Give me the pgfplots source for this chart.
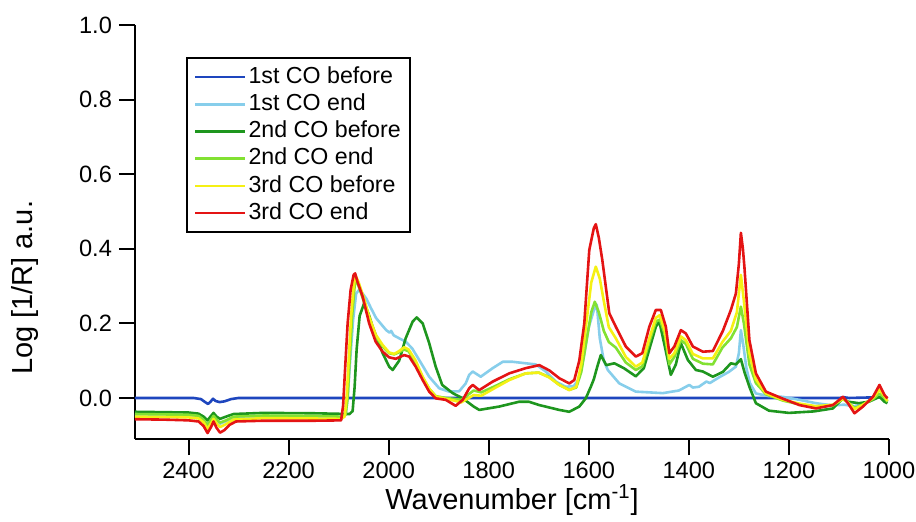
\documentclass[border=0pt]{standalone}
\usepackage{fontspec}
\setmainfont{Liberation Sans}
\usepackage{pgfplots}
\pgfplotsset{compat=1.18}
\definecolor{cBlue}{RGB}{30,70,190}
\definecolor{cLBlue}{RGB}{135,206,235}
\definecolor{cGreen}{RGB}{30,150,30}
\definecolor{cLGreen}{RGB}{130,225,50}
\definecolor{cYellow}{RGB}{245,240,20}
\definecolor{cRed}{RGB}{228,20,20}
\begin{document}
\begin{tikzpicture}
\begin{axis}[
  name=ax,
  scale only axis, width=377pt, height=207pt,
  x dir=reverse, xmin=1000, xmax=2507, ymin=-0.11, ymax=1.0,
  axis x line=bottom, axis y line=left,
  axis line style={-, line width=1pt},
  every outer x axis line/.append style={-},
  every outer y axis line/.append style={-},
  tick align=outside, major tick length=8pt,
  tick style={line width=1pt, black},
  minor tick num=0,
  xtick={1000,1200,1400,1600,1800,2000,2200,2400},
  ytick={0,0.2,0.4,0.6,0.8,1.0},
  /pgf/number format/assume math mode=true,
  x tick label style={/pgf/number format/set thousands separator={}},
  y tick label style={/pgf/number format/.cd, fixed, fixed zerofill, precision=1},
  tick label style={font=\fontsize{11.8pt}{13pt}\selectfont},
  xlabel={Wavenumber [cm\textsuperscript{-1}]},
  ylabel={Log [1/R] a.u.},
  label style={font=\fontsize{14.5pt}{17pt}\selectfont},
  xlabel style={at={(axis description cs:0.5,-0.147)}, anchor=center},
  ylabel style={at={(axis description cs:-0.146,0.365)}, anchor=center},
  legend cell align=left,
  legend style={at={(axis description cs:0.0676,0.9227)}, anchor=north west,
    draw=black, line width=1pt,
    font=\fontsize{11.6pt}{13pt}\selectfont,
    inner xsep=3.5pt, inner ysep=3pt, row sep=0.5pt,
    nodes={inner sep=1pt, text height=8.6pt, text depth=2.5pt}},
  legend image code/.code={\draw[#1, line width=1.3pt] (0pt,0pt) -- (22pt,0pt); \path (0pt,0pt) -- (25pt,0pt);},
  every axis plot/.append style={line width=1.3pt, no markers, line join=round},
]
\addplot[cBlue] coordinates {(2507,0.0)(2390,0.0)(2375,-0.003)(2368,-0.01)(2361,-0.016)(2356,-0.01)(2351,-0.002)(2346,-0.008)(2338,-0.011)(2328,-0.009)(2315,-0.003)(2300,0.0)(1100,0.0)(1090,0.002)(1080,0.0)(1020,0.002)(1003,0.0)};
\addlegendentry{1st CO before}
\addplot[cLBlue] coordinates {(2507,-0.046)(2400,-0.048)(2380,-0.051)(2370,-0.061)(2362,-0.075)(2355,-0.061)(2350,-0.051)(2344,-0.061)(2337,-0.069)(2325,-0.062)(2310,-0.053)(2250,-0.049)(2150,-0.050)(2092,-0.052)(2086,-0.045)(2082,0.0)(2077,0.1)(2071,0.21)(2065,0.28)(2059,0.29)(2052,0.28)(2045,0.267)(2035,0.24)(2025,0.214)(2005,0.182)(1998,0.175)(1995,0.18)(1990,0.168)(1979,0.16)(1966,0.151)(1953,0.133)(1939,0.102)(1919,0.057)(1899,0.026)(1879,0.017)(1859,0.018)(1846,0.039)(1839,0.062)(1832,0.071)(1816,0.057)(1792,0.08)(1772,0.097)(1752,0.097)(1726,0.093)(1706,0.09)(1686,0.071)(1666,0.044)(1646,0.03)(1630,0.032)(1620,0.05)(1610,0.11)(1600,0.19)(1590,0.235)(1584,0.25)(1578,0.16)(1570,0.1)(1562,0.075)(1539,0.039)(1506,0.017)(1452,0.013)(1420,0.02)(1399,0.035)(1392,0.028)(1380,0.03)(1365,0.044)(1358,0.04)(1340,0.055)(1320,0.07)(1306,0.084)(1300,0.12)(1296,0.182)(1291,0.14)(1285,0.08)(1278,0.04)(1266,0.012)(1240,0.005)(1212,0.003)(1179,-0.005)(1146,-0.014)(1112,-0.02)(1090,-0.018)(1069,-0.022)(1050,-0.015)(1030,0.0)(1019,0.008)(1003,-0.005)};
\addlegendentry{1st CO end}
\addplot[cGreen] coordinates {(2507,-0.037)(2400,-0.039)(2380,-0.042)(2370,-0.050)(2362,-0.060)(2355,-0.048)(2350,-0.040)(2344,-0.050)(2337,-0.056)(2325,-0.050)(2310,-0.043)(2250,-0.040)(2150,-0.041)(2078,-0.043)(2072,-0.035)(2068,0.03)(2064,0.13)(2058,0.22)(2049,0.254)(2040,0.225)(2032,0.191)(2012,0.12)(1999,0.084)(1992,0.075)(1979,0.10)(1966,0.16)(1952,0.205)(1944,0.216)(1932,0.2)(1919,0.147)(1906,0.084)(1893,0.035)(1872,0.013)(1852,-0.001)(1839,-0.014)(1830,-0.023)(1819,-0.032)(1779,-0.023)(1739,-0.01)(1720,-0.01)(1699,-0.019)(1659,-0.032)(1639,-0.037)(1619,-0.023)(1606,-0.001)(1596,0.03)(1590,0.05)(1583,0.084)(1576,0.115)(1565,0.088)(1549,0.093)(1530,0.08)(1506,0.058)(1490,0.08)(1466,0.191)(1459,0.205)(1448,0.138)(1436,0.062)(1426,0.09)(1416,0.147)(1402,0.102)(1386,0.075)(1372,0.071)(1352,0.057)(1332,0.07)(1316,0.093)(1306,0.09)(1296,0.104)(1289,0.07)(1279,0.03)(1266,-0.014)(1240,-0.034)(1200,-0.04)(1150,-0.036)(1112,-0.028)(1092,-0.001)(1082,-0.01)(1060,-0.014)(1040,-0.01)(1019,0.003)(1009,-0.01)(1003,-0.014)};
\addlegendentry{2nd CO before}
\addplot[cLGreen] coordinates {(2507,-0.043)(2400,-0.045)(2380,-0.048)(2370,-0.058)(2362,-0.072)(2355,-0.058)(2350,-0.048)(2344,-0.058)(2337,-0.066)(2325,-0.060)(2310,-0.050)(2250,-0.047)(2150,-0.048)(2095,-0.050)(2086,-0.045)(2082,0.0)(2078,0.1)(2073,0.22)(2068,0.30)(2065,0.32)(2060,0.30)(2050,0.26)(2039,0.21)(2026,0.165)(2012,0.138)(1999,0.12)(1989,0.117)(1980,0.122)(1969,0.13)(1960,0.125)(1946,0.095)(1932,0.055)(1919,0.025)(1906,0.005)(1886,0.0)(1866,-0.003)(1855,-0.005)(1840,0.01)(1830,0.02)(1815,0.015)(1790,0.03)(1759,0.05)(1726,0.066)(1700,0.068)(1679,0.056)(1659,0.035)(1639,0.022)(1625,0.028)(1615,0.07)(1605,0.15)(1595,0.23)(1588,0.258)(1580,0.23)(1570,0.18)(1560,0.15)(1546,0.135)(1526,0.095)(1506,0.075)(1493,0.085)(1479,0.15)(1466,0.205)(1458,0.21)(1448,0.17)(1439,0.09)(1429,0.11)(1416,0.155)(1406,0.145)(1392,0.105)(1372,0.092)(1352,0.09)(1333,0.135)(1316,0.16)(1304,0.19)(1296,0.245)(1290,0.2)(1279,0.09)(1266,0.04)(1246,0.01)(1212,-0.007)(1179,-0.017)(1146,-0.024)(1112,-0.02)(1092,-0.003)(1082,-0.012)(1069,-0.027)(1052,-0.018)(1032,-0.003)(1019,0.012)(1009,0.0)(1003,-0.01)};
\addlegendentry{2nd CO end}
\addplot[cYellow] coordinates {(2507,-0.050)(2400,-0.052)(2380,-0.055)(2370,-0.065)(2362,-0.083)(2355,-0.068)(2350,-0.056)(2344,-0.068)(2337,-0.078)(2325,-0.070)(2310,-0.058)(2250,-0.054)(2150,-0.055)(2095,-0.056)(2088,-0.05)(2084,0.0)(2080,0.1)(2075,0.22)(2070,0.30)(2066,0.328)(2060,0.31)(2050,0.27)(2039,0.218)(2026,0.17)(2012,0.142)(1999,0.122)(1989,0.118)(1980,0.125)(1969,0.136)(1960,0.13)(1946,0.10)(1932,0.057)(1919,0.025)(1906,0.004)(1886,-0.002)(1866,-0.008)(1855,-0.012)(1840,0.0)(1830,0.008)(1815,0.006)(1790,0.025)(1759,0.048)(1726,0.066)(1700,0.068)(1679,0.055)(1659,0.035)(1639,0.021)(1625,0.03)(1615,0.09)(1605,0.2)(1595,0.31)(1586,0.352)(1578,0.32)(1570,0.26)(1560,0.19)(1546,0.16)(1526,0.11)(1506,0.084)(1493,0.095)(1479,0.16)(1466,0.215)(1458,0.222)(1448,0.18)(1439,0.105)(1429,0.12)(1416,0.165)(1406,0.155)(1392,0.118)(1372,0.106)(1352,0.106)(1333,0.15)(1316,0.18)(1304,0.23)(1296,0.33)(1290,0.26)(1279,0.12)(1266,0.05)(1246,0.012)(1212,-0.005)(1179,-0.015)(1146,-0.022)(1112,-0.018)(1092,-0.002)(1082,-0.012)(1069,-0.03)(1052,-0.018)(1032,0.0)(1019,0.022)(1009,0.005)(1003,-0.008)};
\addlegendentry{3rd CO before}
\addplot[cRed] coordinates {(2507,-0.057)(2450,-0.058)(2400,-0.060)(2380,-0.063)(2370,-0.075)(2362,-0.094)(2355,-0.078)(2350,-0.063)(2344,-0.080)(2337,-0.093)(2328,-0.086)(2318,-0.072)(2305,-0.063)(2250,-0.061)(2150,-0.061)(2095,-0.060)(2091,-0.02)(2087,0.08)(2082,0.2)(2076,0.29)(2070,0.33)(2067,0.334)(2062,0.31)(2052,0.272)(2039,0.200)(2026,0.151)(2012,0.124)(1999,0.109)(1986,0.105)(1969,0.115)(1959,0.111)(1946,0.084)(1932,0.048)(1919,0.017)(1906,-0.001)(1886,-0.005)(1866,-0.021)(1852,-0.005)(1839,0.026)(1832,0.035)(1819,0.021)(1792,0.044)(1759,0.066)(1726,0.080)(1699,0.088)(1679,0.074)(1659,0.053)(1639,0.039)(1629,0.048)(1619,0.10)(1609,0.20)(1599,0.397)(1590,0.455)(1586,0.466)(1580,0.43)(1573,0.37)(1559,0.227)(1546,0.191)(1526,0.138)(1506,0.111)(1493,0.12)(1479,0.191)(1466,0.236)(1456,0.236)(1446,0.191)(1439,0.12)(1429,0.138)(1416,0.182)(1406,0.173)(1392,0.138)(1372,0.124)(1352,0.126)(1332,0.18)(1316,0.236)(1306,0.28)(1300,0.36)(1296,0.443)(1292,0.40)(1289,0.352)(1279,0.155)(1266,0.066)(1246,0.017)(1212,-0.002)(1179,-0.019)(1146,-0.028)(1112,-0.019)(1092,0.003)(1082,-0.014)(1069,-0.041)(1052,-0.023)(1032,0.003)(1019,0.035)(1009,0.008)(1003,-0.001)};
\addlegendentry{3rd CO end}
\end{axis}
\pgfresetboundingbox
\path ([shift={(-67.5pt,-41pt)}]ax.south west) rectangle ([shift={(13.5pt,12.5pt)}]ax.north east);
\end{tikzpicture}
\end{document}
